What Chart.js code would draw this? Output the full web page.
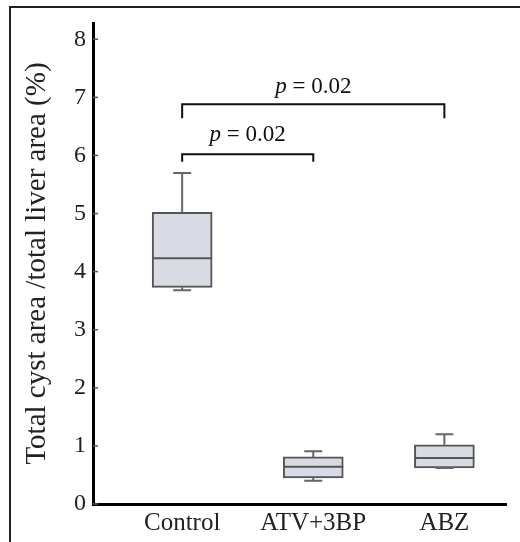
<!DOCTYPE html>
<html>
<head>
<meta charset="utf-8">
<script src="https://cdn.jsdelivr.net/npm/chart.js@4"></script>
<style>
  body { margin: 0; background: #fff; }
  #wrap { position: relative; width: 520px; height: 542px; }
  #frame { position: absolute; left: 9px; top: 6px; right: -10px; bottom: -10px; border-left: 2px solid #222; border-top: 2px solid #222; }
  canvas { position: absolute; left: 0; top: 0; }
</style>
</head>
<body>
<div id="wrap">
  <div id="frame"></div>
  <canvas id="chart" width="520" height="542"></canvas>
</div>
<script>
const categories = ["Control", "ATV+3BP", "ABZ"];
const minVals = [3.68, 0.40, 0.62];
const q1Vals = [3.73, 0.45, 0.62];
const medianVals = [4.23, 0.64, 0.79];
const q3Vals = [5.02, 0.81, 1.02];
const maxVals = [5.70, 0.91, 1.20];
const yTicks = [0, 1, 2, 3, 4, 5, 6, 7, 8];

// significance brackets: from group, to group, bar level, leg end, label level
const comparisons = [
	{ from: 0, to: 1, level: 6.02, leg: 5.89, labelAt: 6.35, text: "0.02" },
	{ from: 0, to: 2, level: 6.88, leg: 6.64, labelAt: 7.18, text: "0.02" },
];

const serif = "'Liberation Serif', 'DejaVu Serif', serif";

const boxData = categories.map((c, i) => ({ x: i, y: [q1Vals[i], q3Vals[i]] }));

const boxExtras = {
	id: "boxExtras",
	afterDatasetsDraw(chart) {
		const ctx = chart.ctx;
		const xs = chart.scales.x;
		const ys = chart.scales.y;
		ctx.save();
		categories.forEach((c, i) => {
			const cx = xs.getPixelForValue(i);
			const half = 30;
			// whiskers
			ctx.strokeStyle = "#666";
			ctx.lineWidth = 2;
			ctx.beginPath();
			ctx.moveTo(cx, ys.getPixelForValue(q3Vals[i]));
			ctx.lineTo(cx, ys.getPixelForValue(maxVals[i]));
			ctx.moveTo(cx - 9, ys.getPixelForValue(maxVals[i]));
			ctx.lineTo(cx + 9, ys.getPixelForValue(maxVals[i]));
			ctx.moveTo(cx, ys.getPixelForValue(q1Vals[i]));
			ctx.lineTo(cx, ys.getPixelForValue(minVals[i]));
			ctx.moveTo(cx - 9, ys.getPixelForValue(minVals[i]));
			ctx.lineTo(cx + 9, ys.getPixelForValue(minVals[i]));
			ctx.stroke();
			// median
			ctx.strokeStyle = "#555";
			ctx.beginPath();
			ctx.moveTo(cx - half, ys.getPixelForValue(medianVals[i]));
			ctx.lineTo(cx + half, ys.getPixelForValue(medianVals[i]));
			ctx.stroke();
		});

		// inward y ticks
		ctx.strokeStyle = "#555";
		ctx.lineWidth = 1.5;
		yTicks.forEach(v => {
			const py = ys.getPixelForValue(v);
			ctx.beginPath();
			ctx.moveTo(chart.chartArea.left, py);
			ctx.lineTo(chart.chartArea.left + 5, py);
			ctx.stroke();
		});

		// brackets
		ctx.strokeStyle = "#111";
		ctx.lineWidth = 2;
		ctx.fillStyle = "#111";
		comparisons.forEach(cmp => {
			const x1 = xs.getPixelForValue(cmp.from);
			const x2 = xs.getPixelForValue(cmp.to);
			const yl = ys.getPixelForValue(cmp.level);
			const yleg = ys.getPixelForValue(cmp.leg);
			ctx.beginPath();
			ctx.moveTo(x1, yleg);
			ctx.lineTo(x1, yl);
			ctx.lineTo(x2, yl);
			ctx.lineTo(x2, yleg);
			ctx.stroke();

			const ty = ys.getPixelForValue(cmp.labelAt);
			const pFont = "italic 23px " + serif;
			const restFont = "23px " + serif;
			const rest = " = " + cmp.text;
			ctx.font = pFont;
			const wp = ctx.measureText("p").width;
			ctx.font = restFont;
			const wr = ctx.measureText(rest).width;
			const start = (x1 + x2) / 2 - (wp + wr) / 2;
			ctx.textBaseline = "middle";
			ctx.textAlign = "left";
			ctx.font = pFont;
			ctx.fillText("p", start, ty);
			ctx.font = restFont;
			ctx.fillText(rest, start + wp, ty);
		});
		ctx.restore();
	}
};

new Chart(document.getElementById("chart"), {
	type: "bar",
	data: {
		datasets: [{
			data: boxData,
			backgroundColor: "#d8dbe4",
			borderColor: "#555",
			borderWidth: 2,
			borderSkipped: false,
			barThickness: 60,
		}]
	},
	options: {
		responsive: false,
		animation: false,
		layout: { padding: { top: 23, right: 14, left: 0, bottom: 0 } },
		plugins: { legend: { display: false }, tooltip: { enabled: false } },
		scales: {
			x: {
				type: "linear",
				offset: false,
				min: -0.68,
				max: 2.47,
				grid: { display: false, drawTicks: false, offset: false },
				border: { display: true, color: "#000", width: 3 },
				afterBuildTicks: scale => { scale.ticks = categories.map((c, i) => ({ value: i })); },
				afterFit: scale => { scale.height = 38; },
				ticks: {
					color: "#222",
					padding: 4,
					font: { family: serif, size: 25 },
					callback: v => categories[v],
				}
			},
			y: {
				min: 0,
				max: 8.28,
				grid: { display: false, drawTicks: false },
				border: { display: true, color: "#000", width: 3 },
				afterBuildTicks: scale => { scale.ticks = yTicks.map(v => ({ value: v })); },
				afterFit: scale => { scale.width = 93; },
				ticks: {
					color: "#222",
					padding: 7,
					font: { family: serif, size: 24 },
				},
				title: {
					display: true,
					text: "Total cyst area /total liver area (%)",
					color: "#222",
					padding: { top: 20, bottom: 0 },
					font: { family: serif, size: 29 },
				}
			}
		}
	},
	plugins: [boxExtras]
});
</script>
</body>
</html>
